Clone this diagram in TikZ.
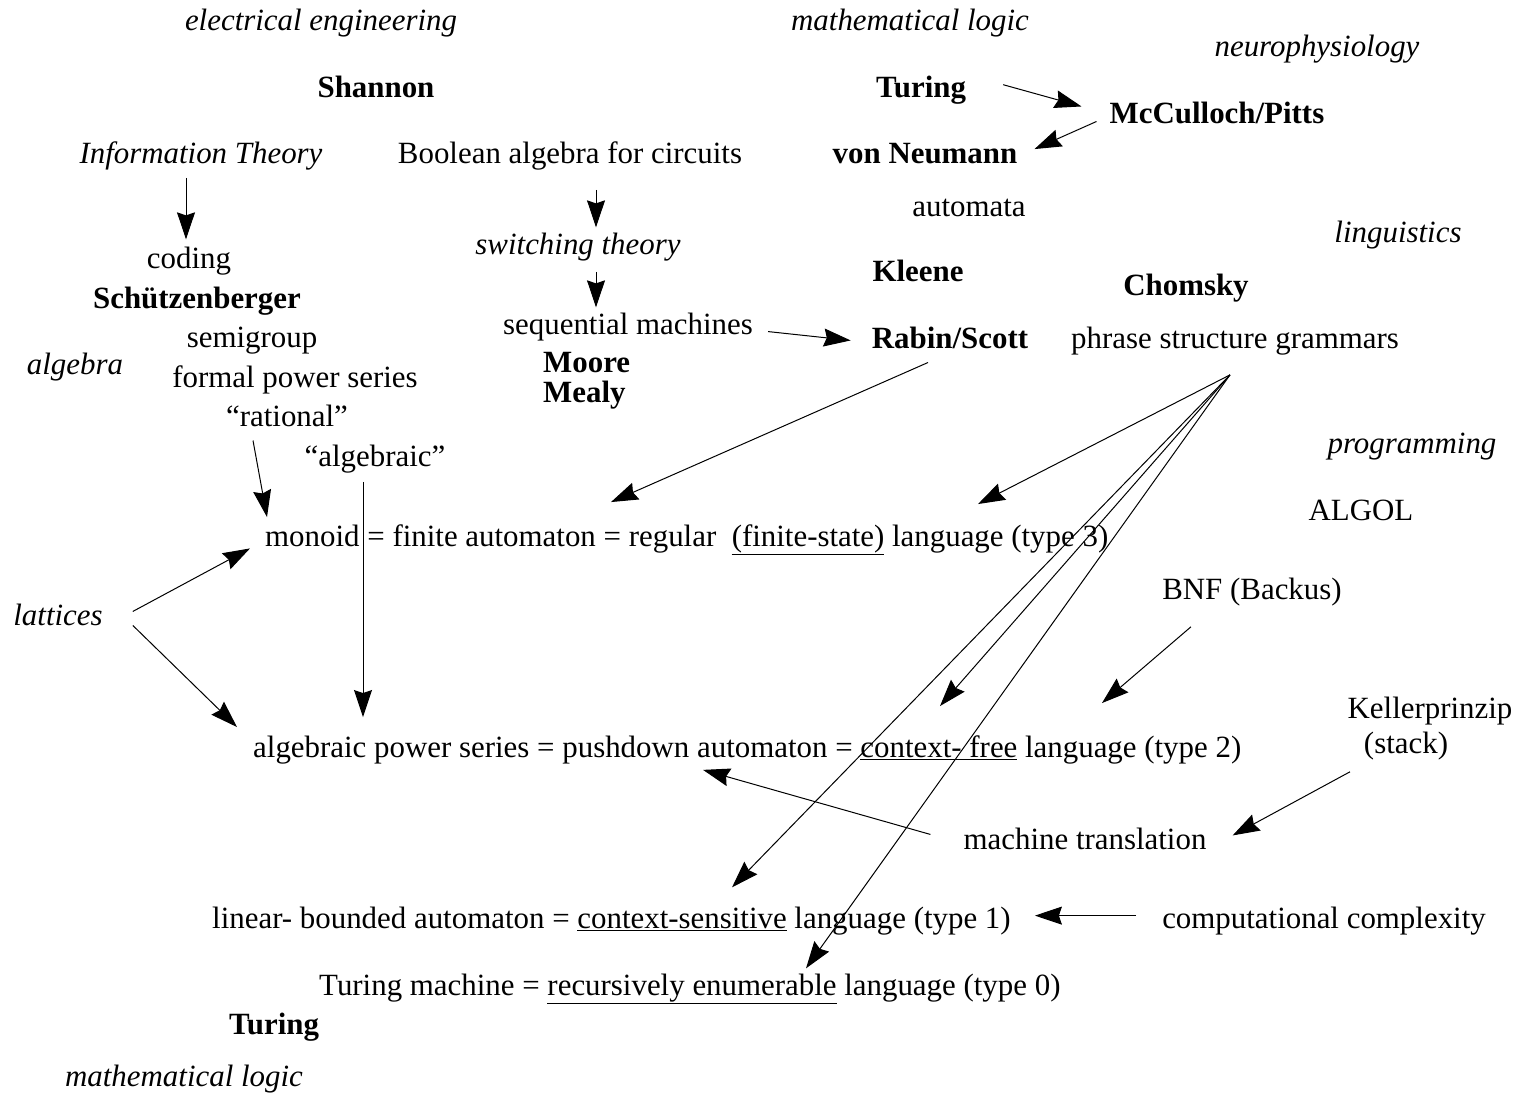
\documentclass[tikz,border=0pt]{standalone}
\usepackage{fontspec}
\setmainfont{Liberation Serif}
\usetikzlibrary{arrows.meta, calc}
\tikzstyle{term} = [inner sep=0pt, anchor=base, font=\fontsize{30.9pt}{36pt}\selectfont]
\tikzstyle{person} = [term, font=\fontsize{30.9pt}{36pt}\selectfont\bfseries]
\tikzstyle{field} = [term, font=\fontsize{30.9pt}{36pt}\selectfont\itshape]
\tikzstyle{arrow} = [line width=1pt, -{Stealth[length=27pt, width=18pt, inset=3pt]}]

\begin{document}
\begin{tikzpicture}[x=1pt, y=-1pt]
	\useasboundingbox (0,0) rectangle (1516,1093);
	
	% fields
	\node[field] (ee) at (321,30) {electrical engineering};
	\node[field] (logic) at (910,30) {mathematical logic};
	\node[field] (neuro) at (1317,56) {neurophysiology};
	\node[field] (info) at (201,163) {Information Theory};
	\node[field] (ling) at (1398,242) {linguistics};
	\node[field] (switch) at (578,254) {switching theory};
	\node[field] (alg) at (75,374) {algebra};
	\node[field] (prog) at (1412,453) {programming};
	\node[field] (lat) at (58,625) {lattices};
	\node[field] (logicb) at (184,1086) {mathematical logic};
	
	% people
	\node[person] (shannon) at (376,97) {Shannon};
	\node[person] (turing) at (921,97) {Turing};
	\node[person] (mcp) at (1217,123) {McCulloch/Pitts};
	\node[person] (vonn) at (925,163) {von Neumann};
	\node[person] (kleene) at (918,281) {Kleene};
	\node[person] (chomsky) at (1186,295) {Chomsky};
	\node[person] (schutz) at (197,308) {Schützenberger};
	\node[person] (rabin) at (950,348) {Rabin/Scott};
	\node[person, anchor=base west] (moore) at (543,372) {Moore};
	\node[person, anchor=base west] (mealy) at (543,402) {Mealy};
	\node[person] (turingb) at (274,1034) {Turing};
	
	% terms
	\node[term] (bool) at (570,163) {Boolean algebra for circuits};
	\node[term] (automata) at (969,216) {automata};
	\node[term] (coding) at (189,268) {coding};
	\node[term] (seq) at (628,334) {sequential machines};
	\node[term] (semi) at (252,347) {semigroup};
	\node[term] (phrase) at (1235,348) {phrase structure grammars};
	\node[term] (fps) at (295,387) {formal power series};
	\node[term] (rat) at (287,426) {“rational”};
	\node[term] (algq) at (375,466) {“algebraic”};
	\node[term] (algol) at (1361,520) {ALGOL};
	\node[term] (bnf) at (1252,599) {BNF (Backus)};
	\node[term] (keller) at (1430,718) {Kellerprinzip};
	\node[term] (stack) at (1406,753) {(stack)};
	\node[term] (mt) at (1085,849) {machine translation};
	\node[term] (cc) at (1324,928) {computational complexity};
	
	% the four language classes
	\node[term, anchor=base west] (type3) at (265,546) {monoid = finite automaton = regular \ \underline{(finite-state)} language (type 3)};
	\node[term, anchor=base west] (type2) at (253,757) {algebraic power series = pushdown automaton = \underline{context- free} language (type 2)};
	\node[term, anchor=base west] (type1) at (212,928) {linear- bounded automaton = \underline{context-sensitive} language (type 1)};
	\node[term, anchor=base west] (type0) at (319,995) {Turing machine = \underline{recursively enumerable} language (type 0)};
	
	\coordinate (fan) at ($(phrase.south)+(-5,20)$);
	
	\draw[arrow] ($(info.south)+(-15,8)$) -- ($(coding.north)+(-3,-7)$);
	\draw[arrow] ($(bool.south)+(26,20)$) -- ($(switch.north)+(18,-5)$);
	\draw[arrow] ($(switch.south)+(18,11)$) -- ($(seq.north)+(-32,-5)$);
	\draw[arrow] ($(turing.east)+(37,-5)$) -- ($(mcp.west)+(-28,-6)$);
	\draw[arrow] ($(mcp.west)+(-13,9)$) -- ($(vonn.east)+(17,-4)$);
	\draw[arrow] ($(seq.east)+(15,5)$) -- ($(rabin.west)+(-21,3)$);
	\draw[arrow] ($(rabin.south)+(-22,14)$) -- ($(type3.north west)+(346,-22)$);
	\draw[arrow] (fan) -- ($(type3.north west)+(713,-20)$);
	\draw[arrow] (fan) -- ($(type2.north west)+(687,-29)$);
	\draw[arrow] (fan) -- ($(type1.north west)+(520,-19)$);
	\draw[arrow] (fan) -- ($(type0.north west)+(487,-5)$);
	\draw[arrow] ($(rat.south)+(-34,14)$) -- ($(type3.north west)+(2,-7)$);
	\draw[arrow] ($(algq.south)+(-12,9)$) -- ($(type2.north west)+(110,-18)$);
	\draw[arrow] ($(lat.east)+(30,-3)$) -- ($(type3.west)+(-15,9)$);
	\draw[arrow] ($(lat.east)+(30,11)$) -- ($(type2.north west)+(-16,-8)$);
	\draw[arrow] ($(bnf.south)+(-61,21)$) -- ($(type2.north west)+(849,-32)$);
	\draw[arrow] ($(mt.west)+(-33,-4)$) -- ($(type2.south west)+(450,6)$);
	\draw[arrow] ($(stack.south)+(-56,12)$) -- ($(mt.east)+(26,-3)$);
	\draw[arrow] ($(cc.west)+(-26,-5)$) -- ($(type1.east)+(24,-5)$);
	
\end{tikzpicture}
\end{document}
